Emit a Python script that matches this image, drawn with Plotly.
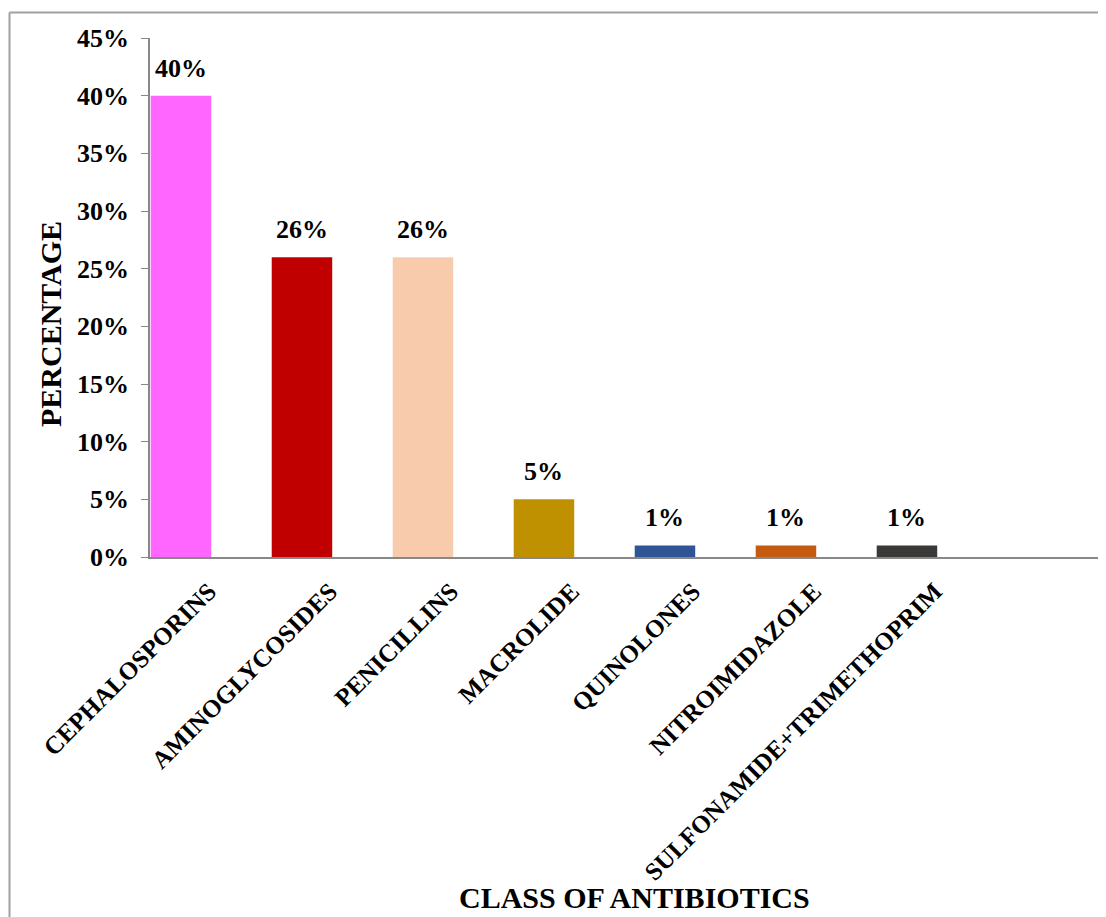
import plotly.graph_objects as go

categories = ["CEPHALOSPORINS", "AMINOGLYCOSIDES", "PENICILLINS", "MACROLIDE",
              "QUINOLONES", "NITROIMIDAZOLE", "SULFONAMIDE+TRIMETHOPRIM"]
values = [0.40, 0.26, 0.26, 0.05, 0.01, 0.01, 0.01]
labels = ["40%", "26%", "26%", "5%", "1%", "1%", "1%"]
colors = ["#FF66FF", "#C00000", "#F8CBAD", "#BF9000", "#2F5597", "#C55A11", "#3B3838"]
y_ticks = [0, 0.05, 0.10, 0.15, 0.20, 0.25, 0.30, 0.35, 0.40, 0.45]
y_ticktext = ["0%", "5%", "10%", "15%", "20%", "25%", "30%", "35%", "40%", "45%"]

# page has an 8px body margin; compensate so positions match the reference
OFF = 8
W, H = 1106 - OFF, 917 - OFF
L, R, T, B = 150 - OFF, 0, 38 - OFF, 360
pw, ph = W - L - R, H - T - B

def px(x):
    return (x - OFF - L) / pw

def py(y):
    return (H - B - (y - OFF)) / ph

FONT = "Liberation Serif"

fig = go.Figure(go.Bar(
    x=categories, y=values, marker=dict(color=colors, line=dict(width=0)),
    width=0.5,
))

value_labels = [
    dict(x=c, y=v, xref="x", yref="y", text=t, showarrow=False, yanchor="bottom",
         yshift=11, font=dict(family=FONT, size=26, color="black", weight="bold"))
    for c, v, t in zip(categories, values, labels)
]

fig.update_layout(
    width=W, height=H, margin=dict(l=L, r=R, t=T, b=B),
    plot_bgcolor="white", paper_bgcolor="white", showlegend=False,
    font=dict(family=FONT, color="black"),
    xaxis=dict(
        type="category", range=[-0.256, 7.645], showline=True, linecolor="#888888",
        linewidth=1.5, ticks="", tickangle=-45, showgrid=False,
        ticklabelshift=28, ticklabelstandoff=8,
        tickfont=dict(family=FONT, size=25, color="black", weight="bold"),
    ),
    yaxis=dict(
        range=[0, 0.45], tickvals=y_ticks, ticktext=y_ticktext, showline=True,
        linecolor="#888888", linewidth=1.5, ticks="outside", ticklen=7, tickcolor="#888888",
        showgrid=False, zeroline=False, ticklabelstandoff=7,
        tickfont=dict(family=FONT, size=26, color="black", weight="bold"),
    ),
    annotations=value_labels + [
        dict(text="PERCENTAGE", xref="paper", yref="paper", x=px(50), y=py(324),
             textangle=-90, showarrow=False,
             font=dict(family=FONT, size=30, color="black", weight="bold"),
             xanchor="center", yanchor="middle"),
        dict(text="CLASS OF ANTIBIOTICS", xref="paper", yref="paper", x=px(634), y=py(916),
             showarrow=False, font=dict(family=FONT, size=30, color="black", weight="bold"),
             xanchor="center", yanchor="bottom"),
    ],
    shapes=[
        dict(type="line", xref="paper", yref="paper", x0=px(9.5), x1=px(9.5), y0=py(12.5), y1=py(940),
             line=dict(color="#A0A0A0", width=2)),
        dict(type="line", xref="paper", yref="paper", x0=px(9.5), x1=px(1130), y0=py(12.5), y1=py(12.5),
             line=dict(color="#A0A0A0", width=2)),
    ],
)
fig.write_html("out.html")
